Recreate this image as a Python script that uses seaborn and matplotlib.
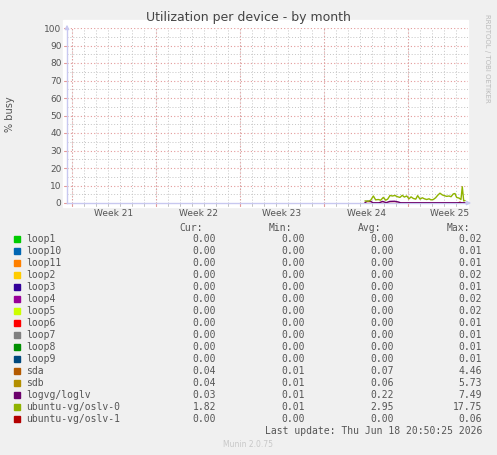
import numpy as np
import pandas as pd
import matplotlib
matplotlib.use("Agg")
import matplotlib.pyplot as plt
import seaborn as sns

# %%
# data (x in days from left edge of the graph)
devices = ["loop1", "loop10", "loop11", "loop2", "loop3", "loop4", "loop5", "loop6",
           "loop7", "loop8", "loop9", "sda", "sdb", "logvg/loglv",
           "ubuntu-vg/oslv-0", "ubuntu-vg/oslv-1"]
colors = ["#00CC00", "#0066B3", "#FF8000", "#FFCC00", "#330099", "#990099", "#CCFF00",
          "#FF0000", "#808080", "#008F00", "#00487D", "#B35A00", "#B38F00", "#6B006B",
          "#8FB300", "#B30000"]
cur = ["0.00"] * 11 + ["0.04", "0.04", "0.03", "1.82", "0.00"]
mins = ["0.00"] * 11 + ["0.01", "0.01", "0.01", "0.01", "0.00"]
avgs = ["0.00"] * 11 + ["0.07", "0.06", "0.22", "2.95", "0.00"]
maxs = ["0.02", "0.01", "0.01", "0.02", "0.01", "0.02", "0.02", "0.01", "0.01", "0.01",
        "0.01", "4.46", "5.73", "7.49", "17.75", "0.06"]

oslv0_t = [24.83, 25.11, 25.31, 25.53, 25.72, 25.94, 26.14, 26.36, 26.56, 26.72, 26.92,
           27.11, 27.33, 27.53, 27.75, 27.94, 28.11, 28.31, 28.5, 28.67, 28.86, 29.06,
           29.22, 29.42, 29.61, 29.78, 29.97, 30.17, 30.33, 30.53, 30.72, 30.89, 31.08,
           31.28, 31.44, 31.64, 31.83, 32.0, 32.19, 32.33, 32.47, 32.67, 32.83, 32.94,
           33.06, 33.17]
oslv0_y = [1.2, 1.0, 1.6, 4.0, 1.8, 2.0, 1.6, 3.2, 1.6, 2.2, 4.3, 4.0, 4.3, 3.6, 3.2, 4.4,
           3.4, 4.0, 2.4, 3.5, 2.6, 2.2, 4.2, 2.2, 3.0, 2.4, 2.0, 2.4, 1.8, 2.0, 3.0, 4.4,
           5.6, 4.6, 4.2, 3.8, 4.0, 3.6, 5.2, 5.4, 3.2, 2.8, 2.0, 9.3, 1.2, 1.4]
loglv_t = [24.83, 25.0, 25.3, 25.5, 26.0, 26.3, 26.6, 26.9, 27.3, 27.6, 27.8, 33.17]
loglv_y = [0.2, 1.0, 1.0, 0.1, 0.1, 0.9, 0.2, 0.9, 1.0, 0.6, 0.1, 0.1]
oslv1_t = [24.83, 33.17]
oslv1_y = [0.05, 0.05]
sda_t = [32.6, 32.75, 32.85]
sda_y = [0.05, 0.5, 0.05]

week_pos = [3.92, 10.92, 17.92, 24.92, 31.92]
week_labels = ["Week 21", "Week 22", "Week 23", "Week 24", "Week 25"]

# %%
df = pd.concat([
    pd.DataFrame({"t": oslv1_t, "y": oslv1_y, "dev": "ubuntu-vg/oslv-1"}),
    pd.DataFrame({"t": sda_t, "y": sda_y, "dev": "sda"}),
    pd.DataFrame({"t": loglv_t, "y": loglv_y, "dev": "logvg/loglv"}),
    pd.DataFrame({"t": oslv0_t, "y": oslv0_y, "dev": "ubuntu-vg/oslv-0"}),
])
palette = dict(zip(devices, colors))

sns.set_theme(style="white")
plt.rcParams["font.family"] = ["DejaVu Sans"]

W, H = 497, 455
fig = plt.figure(figsize=(W / 100, H / 100), dpi=100, facecolor="#F0F0F0")
# white canvas behind the graph area (slightly larger than the axes)
fig.patches.append(plt.Rectangle((63 / W, 1 - 207 / H), 405 / W, 187 / H,
                                 transform=fig.transFigure, color="white", zorder=-5))
ax = fig.add_axes([67 / W, 1 - 203 / H, 401 / W, 175 / H])
ax.set_facecolor("white")

xmax = 401 / 12
days = np.arange(0.42, xmax, 1.0)
weeks = np.arange(0.42, xmax, 7.0)
for d in days:
    ax.axvline(d, color="#C4C4C4", lw=0.7, ls=(0, (1, 2)), zorder=0)
for d in weeks:
    ax.axvline(d, color="#E49A9A", lw=0.8, ls=(0, (1, 2)), zorder=0)
for v in range(5, 100, 10):
    ax.axhline(v, color="#C4C4C4", lw=0.7, ls=(0, (1, 2)), zorder=0)
for v in range(10, 101, 10):
    ax.axhline(v, color="#E49A9A", lw=0.8, ls=(0, (1, 2)), zorder=0)

# short tick marks below the x axis and left of the y axis
for d in days:
    ax.plot([d, d], [0, -1.5], color="#C4C4C4", lw=0.7, clip_on=False, zorder=1)
for d in weeks:
    ax.plot([d, d], [0, -1.8], color="#E49A9A", lw=0.8, clip_on=False, zorder=1)
for v in range(0, 101, 10):
    ax.plot([0, -0.25], [v, v], color="#E49A9A", lw=0.8, clip_on=False, zorder=1)

sns.lineplot(data=df, x="t", y="y", hue="dev", palette=palette, lw=1.0,
             legend=False, ax=ax, zorder=3, estimator=None, sort=False)

ax.set_xlim(0, xmax)
ax.set_ylim(0, 100)
ax.set_yticks(range(0, 101, 10))
ax.set_xticks(week_pos)
ax.set_xticklabels(week_labels)
ax.tick_params(axis="both", labelsize=6.5, colors="#555555", length=0, pad=4)
ax.set_xlabel("")
ax.set_ylabel("")
for s in ["top", "right"]:
    ax.spines[s].set_visible(False)
for s in ["left", "bottom"]:
    ax.spines[s].set_color("#C8C8F0")
    ax.spines[s].set_linewidth(1.0)

# axis arrows
ax.annotate("", xy=(0, 1.035), xytext=(0, 0.98), xycoords="axes fraction",
            arrowprops=dict(arrowstyle="-|>", color="#C8C8F0", lw=1, mutation_scale=6))
ax.annotate("", xy=(1.015, 0), xytext=(0.99, 0), xycoords="axes fraction",
            arrowprops=dict(arrowstyle="-|>", color="#C8C8F0", lw=1, mutation_scale=6))

fig.text(248 / W, 1 - 18 / H, "Utilization per device - by month", ha="center",
         va="center", fontsize=9, color="#444444")
fig.text(10 / W, 1 - 114 / H, "% busy", rotation=90, ha="center", va="center",
         fontsize=7, color="#555555")
fig.text(487 / W, 1 - 58 / H, "RRDTOOL / TOBI OETIKER", rotation=270, ha="center",
         va="center", fontsize=5, color="#BBBBBB")

# legend table
mono = "DejaVu Sans Mono"
tc = "#555555"
fs = 7
for x, lab in zip([203, 292, 381, 470], ["Cur:", "Min:", "Avg:", "Max:"]):
    fig.text(x / W, 1 - 228 / H, lab, ha="right", va="center", family=mono,
             fontsize=fs, color=tc)
for i, dev in enumerate(devices):
    y = 1 - (239.3 + 12 * i) / H
    fig.patches.append(plt.Rectangle((14 / W, y - 3 / H), 6 / W, 6 / H,
                                     transform=fig.transFigure, color=colors[i]))
    fig.text(26 / W, y, dev, ha="left", va="center", family=mono, fontsize=fs, color=tc)
    for x, val in zip([216, 305, 394, 482], [cur[i], mins[i], avgs[i], maxs[i]]):
        fig.text(x / W, y, val, ha="right", va="center", family=mono, fontsize=fs, color=tc)

fig.text(482 / W, 1 - 430.7 / H, "Last update: Thu Jun 18 20:50:25 2026", ha="right",
         va="center", family=mono, fontsize=fs, color=tc)
fig.text(248 / W, 1 - 444.3 / H, "Munin 2.0.75", ha="center", va="center",
         fontsize=5.5, color="#C8C8C8")

fig.savefig("out.png", dpi=100, facecolor=fig.get_facecolor())
